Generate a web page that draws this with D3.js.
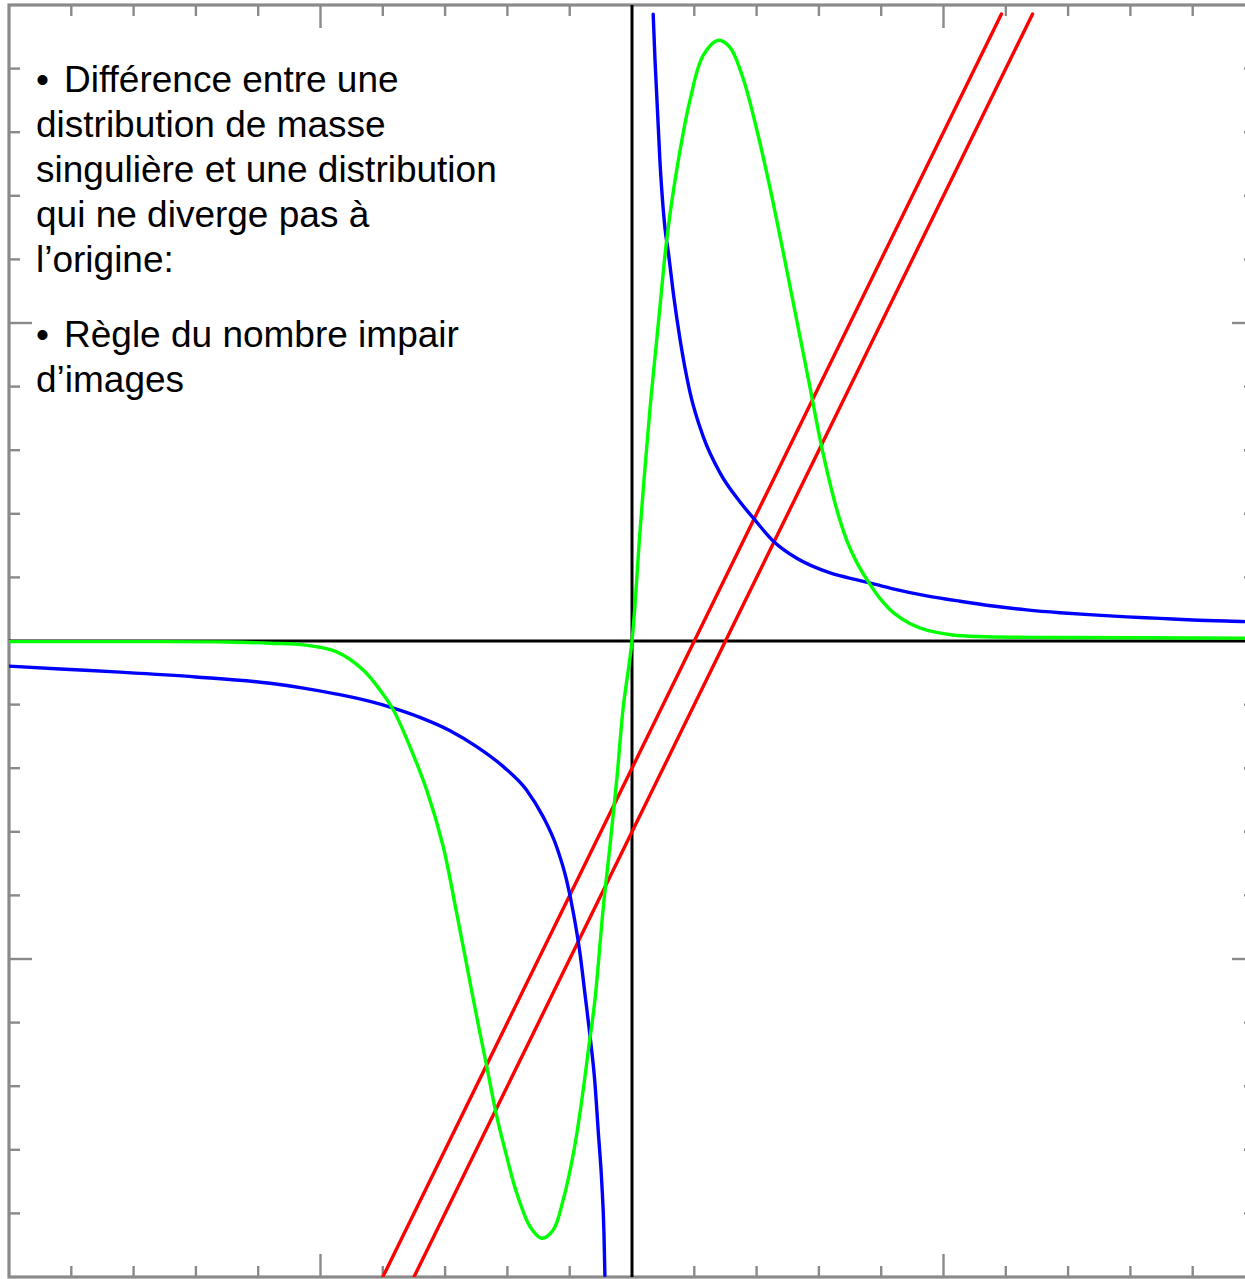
<!DOCTYPE html>
<html>
<head>
<meta charset="utf-8">
<script src="https://cdn.jsdelivr.net/npm/d3@7"></script>
<style>
  html, body { margin: 0; padding: 0; background: #fff; }
  svg { display: block; }
</style>
</head>
<body>
<script>
// ---- data (in axis units) ----
const xTicks = d3.range(-2, 2.0001, 0.2).map(v => +v.toFixed(1));
const yTicks = d3.range(-2, 2.0001, 0.2).map(v => +v.toFixed(1));
const majorTicks = [-1, 1];

const redUpper = [[-0.8, -2.0], [1.186, 1.972]];
const redLower = [[-0.7, -2.0], [1.286, 1.972]];

const bluePositive = [
  [0.068, 1.971], [0.074, 1.824], [0.090, 1.503], [0.106, 1.297], [0.117, 1.220],
  [0.133, 1.091], [0.154, 0.950], [0.186, 0.783], [0.229, 0.642], [0.283, 0.528],
  [0.347, 0.437], [0.389, 0.387], [0.454, 0.314], [0.529, 0.260], [0.636, 0.214],
  [0.732, 0.190], [0.785, 0.177], [0.838, 0.164], [0.946, 0.142], [1.053, 0.125],
  [1.159, 0.110], [1.267, 0.098], [1.374, 0.089], [1.480, 0.082], [1.588, 0.076],
  [1.695, 0.071], [1.801, 0.066], [1.968, 0.061], [2.0, 0.060]
];
const blueNegative = [
  [-2.0, -0.079], [-1.836, -0.088], [-1.644, -0.098], [-1.4, -0.113], [-1.162, -0.133],
  [-1.055, -0.148], [-0.948, -0.167], [-0.841, -0.190], [-0.766, -0.211], [-0.681, -0.240],
  [-0.584, -0.282], [-0.499, -0.332], [-0.413, -0.395], [-0.338, -0.469], [-0.285, -0.553],
  [-0.242, -0.647], [-0.210, -0.752], [-0.188, -0.856], [-0.167, -0.982], [-0.151, -1.110],
  [-0.135, -1.240], [-0.119, -1.390], [-0.108, -1.547], [-0.097, -1.704], [-0.090, -1.862],
  [-0.087, -1.995]
];
const green = [
  [-2.0, -0.002], [-1.6, -0.002], [-1.3, -0.003], [-1.162, -0.007], [-1.055, -0.012],
  [-0.948, -0.034], [-0.863, -0.091], [-0.809, -0.154], [-0.766, -0.217], [-0.713, -0.332],
  [-0.659, -0.469], [-0.606, -0.647], [-0.563, -0.855], [-0.509, -1.129], [-0.488, -1.233],
  [-0.466, -1.339], [-0.434, -1.496], [-0.402, -1.622], [-0.370, -1.736], [-0.327, -1.842],
  [-0.290, -1.878], [-0.253, -1.852], [-0.221, -1.758], [-0.188, -1.611], [-0.161, -1.443],
  [-0.140, -1.286], [-0.119, -1.129], [-0.092, -0.836], [-0.071, -0.647], [-0.049, -0.437],
  [-0.028, -0.207], [0.0, 0.0], [0.026, 0.349], [0.058, 0.733], [0.090, 1.053],
  [0.111, 1.258], [0.143, 1.478], [0.186, 1.700], [0.229, 1.842], [0.278, 1.889],
  [0.315, 1.866], [0.357, 1.768], [0.400, 1.610], [0.443, 1.425], [0.486, 1.220],
  [0.529, 1.008], [0.571, 0.800], [0.609, 0.610], [0.657, 0.415], [0.690, 0.315],
  [0.721, 0.248], [0.764, 0.178], [0.796, 0.134], [0.838, 0.090], [0.892, 0.055],
  [0.946, 0.034], [1.030, 0.019], [1.107, 0.014], [1.342, 0.011], [1.65, 0.010], [2.0, 0.009]
];

const bullet1 = ["Différence entre une", "distribution de masse", "singulière et une distribution", "qui ne diverge pas à", "l’origine:"];
const bullet2 = ["Règle du nombre impair", "d’images"];

// ---- drawing ----
const W = 1245, H = 1279;
const svg = d3.select("body").append("svg").attr("width", W).attr("height", H);

const x = d3.scaleLinear().domain([-2, 2]).range([9, 1255]);
const y = d3.scaleLinear().domain([-2, 2]).range([1277, 5]);

svg.append("defs").append("clipPath").attr("id", "clip")
  .append("rect").attr("x", x(-2)).attr("y", y(2)).attr("width", x(2) - x(-2)).attr("height", y(-2) - y(2));

const frameColor = "#8a8a8a";
const shortT = 11, longT = 23;
const tickLen = v => majorTicks.includes(v) ? longT : shortT;

const tg = svg.append("g").attr("stroke", frameColor).attr("stroke-width", 2.4);
const inner = xTicks.filter(v => v > -2 && v < 2 && v !== 0);
const innerY = yTicks.filter(v => v > -2 && v < 2 && v !== 0);
inner.forEach(v => {
  tg.append("line").attr("x1", x(v)).attr("x2", x(v)).attr("y1", y(2)).attr("y2", y(2) + tickLen(v));
  tg.append("line").attr("x1", x(v)).attr("x2", x(v)).attr("y1", y(-2)).attr("y2", y(-2) - tickLen(v));
});
innerY.forEach(v => {
  tg.append("line").attr("y1", y(v)).attr("y2", y(v)).attr("x1", x(-2)).attr("x2", x(-2) + tickLen(v));
  tg.append("line").attr("y1", y(v)).attr("y2", y(v)).attr("x1", x(2)).attr("x2", x(2) - tickLen(v));
});

svg.append("rect")
  .attr("x", x(-2)).attr("y", y(2)).attr("width", x(2) - x(-2)).attr("height", y(-2) - y(2))
  .attr("fill", "none").attr("stroke", frameColor).attr("stroke-width", 3.2);

// axes through origin
const ax = svg.append("g").attr("stroke", "#000").attr("stroke-width", 3);
ax.append("line").attr("x1", x(-2)).attr("x2", x(2)).attr("y1", y(0)).attr("y2", y(0));
ax.append("line").attr("x1", x(0)).attr("x2", x(0)).attr("y1", y(-2)).attr("y2", y(2));

const plot = svg.append("g").attr("clip-path", "url(#clip)");
const lineMono = d3.line().x(d => x(d[0])).y(d => y(d[1])).curve(d3.curveMonotoneX);
const lineSmooth = d3.line().x(d => x(d[0])).y(d => y(d[1])).curve(d3.curveCatmullRom.alpha(0.5));

function draw(data, color, gen) {
  plot.append("path").datum(data).attr("d", gen)
    .attr("fill", "none").attr("stroke", color).attr("stroke-width", 3.4)
    .attr("stroke-linejoin", "round").attr("stroke-linecap", "round");
}
draw(redUpper, "#ff0000", lineMono);
draw(redLower, "#ff0000", lineMono);
draw(bluePositive, "#0000ff", lineMono);
draw(blueNegative, "#0000ff", lineMono);
draw(green, "#00ff00", lineSmooth);

// text block
const txt = svg.append("g")
  .attr("font-family", "'Liberation Sans', Arial, sans-serif")
  .attr("font-size", 37).attr("fill", "#000");
const lh = 45;
txt.append("text").attr("x", 36).attr("y", 92).text("•");
bullet1.forEach((s, i) => {
  txt.append("text").attr("x", i === 0 ? 64 : 36).attr("y", 92 + i * lh).text(s);
});
txt.append("text").attr("x", 36).attr("y", 347).text("•");
bullet2.forEach((s, i) => {
  txt.append("text").attr("x", i === 0 ? 64 : 36).attr("y", 347 + i * lh).text(s);
});
</script>
</body>
</html>
